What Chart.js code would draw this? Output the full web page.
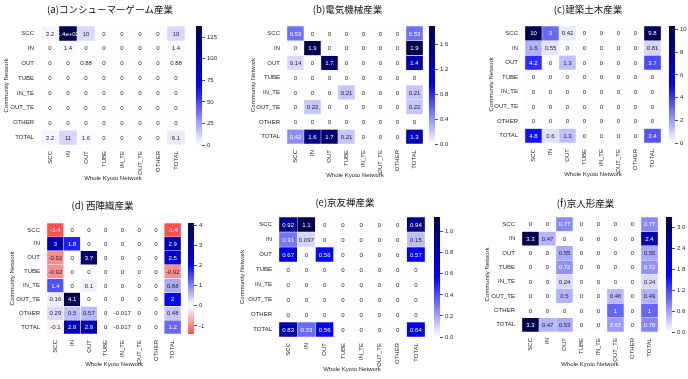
<!DOCTYPE html>
<html><head><meta charset="utf-8">
<script src="https://cdn.jsdelivr.net/npm/chart.js@4.4.0/dist/chart.umd.min.js"></script>
<style>
html,body{margin:0;padding:0;background:#fff;}
#root{position:relative;width:688px;height:379px;overflow:hidden;background:#fff;}
canvas{position:absolute;}
</style></head><body><div id="root"></div>
<script>
// ---------- data ----------
const rowLabels = ['SCC','IN','OUT','TUBE','IN_TE','OUT_TE','OTHER','TOTAL'];
const colLabels = ['SCC','IN','OUT','TUBE','IN_TE','OUT_TE','OTHER','TOTAL'];
const titles = ['(a)コンシューマーゲーム産業','(b)電気機械産業','(c)建築土木産業','(d) 西陣織産業','(e)京友禅産業','(f)京人形産業'];
const xTitle = 'Whole Kyoto Network';
const yTitle = 'Community Network';

const valuesA = [
  [3.2, 138, 10, 0, 0, 0, 0, 10],
  [0, 1.4, 0, 0, 0, 0, 0, 1.4],
  [0, 0, 0.88, 0, 0, 0, 0, 0.88],
  [0, 0, 0, 0, 0, 0, 0, 0],
  [0, 0, 0, 0, 0, 0, 0, 0],
  [0, 0, 0, 0, 0, 0, 0, 0],
  [0, 0, 0, 0, 0, 0, 0, 0],
  [3.2, 11, 1.6, 0, 0, 0, 0, 6.1]
];
const valuesB = [
  [0.53, 0, 0, 0, 0, 0, 0, 0.53],
  [0, 1.9, 0, 0, 0, 0, 0, 1.9],
  [0.14, 0, 1.7, 0, 0, 0, 0, 1.4],
  [0, 0, 0, 0, 0, 0, 0, 0],
  [0, 0, 0, 0.21, 0, 0, 0, 0.21],
  [0, 0.22, 0, 0, 0, 0, 0, 0.22],
  [0, 0, 0, 0, 0, 0, 0, 0],
  [0.42, 1.6, 1.7, 0.21, 0, 0, 0, 1.3]
];
const valuesC = [
  [10.3, 3, 0.42, 0, 0, 0, 0, 9.8],
  [1.6, 0.55, 0, 0, 0, 0, 0, 0.81],
  [4.2, 0, 1.3, 0, 0, 0, 0, 3.7],
  [0, 0, 0, 0, 0, 0, 0, 0],
  [0, 0, 0, 0, 0, 0, 0, 0],
  [0, 0, 0, 0, 0, 0, 0, 0],
  [0, 0, 0, 0, 0, 0, 0, 0],
  [4.8, 0.6, 1.3, 0, 0, 0, 0, 3.4]
];
const valuesD = [
  [-1.4, 0, 0, 0, 0, 0, 0, -1.4],
  [3, 1.8, 0, 0, 0, 0, 0, 2.9],
  [-0.92, 0, 3.7, 0, 0, 0, 0, 2.5],
  [-0.92, 0, 0, 0, 0, 0, 0, -0.92],
  [1.4, 0, 0.1, 0, 0, 0, 0, 0.68],
  [0.16, 4.1, 0, 0, 0, 0, 0, 2],
  [0.29, 0.5, 0.57, 0, -0.017, 0, 0, 0.48],
  [-0.1, 2.9, 2.9, 0, -0.017, 0, 0, 1.2]
];
const valuesE = [
  [0.92, 1.14, 0, 0, 0, 0, 0, 0.94],
  [0.31, 0.097, 0, 0, 0, 0, 0, 0.15],
  [0.67, 0, 0.56, 0, 0, 0, 0, 0.57],
  [0, 0, 0, 0, 0, 0, 0, 0],
  [0, 0, 0, 0, 0, 0, 0, 0],
  [0, 0, 0, 0, 0, 0, 0, 0],
  [0, 0, 0, 0, 0, 0, 0, 0],
  [0.83, 0.33, 0.56, 0, 0, 0, 0, 0.64]
];
const valuesF = [
  [0, 0, 0.77, 0, 0, 0, 0, 0.77],
  [3.3, 0.47, 0, 0, 0, 0, 0, 2.4],
  [0, 0, 0.55, 0, 0, 0, 0, 0.55],
  [0, 0, 0.72, 0, 0, 0, 0, 0.72],
  [0, 0, 0.24, 0, 0, 0, 0, 0.24],
  [0, 0, 0.5, 0, 0, 0.46, 0, 0.49],
  [0, 0, 0, 0, 0, 1, 0, 1],
  [3.3, 0.47, 0.53, 0, 0, 0.67, 0, 0.79]
];

const cbTicksA = ['0','25','50','75','100','125'];
const cbTicksB = ['0.0','0.4','0.8','1.2','1.6'];
const cbTicksC = ['0','2','4','6','8','10'];
const cbTicksD = ['-1','0','1','2','3','4'];
const cbTicksE = ['0.0','0.2','0.4','0.6','0.8','1.0'];
const cbTicksF = ['0.0','0.6','1.2','1.8','2.4','3.0'];

// ---------- layout (pixels) ----------
const geom = [
  {x0:41, x1:185, y0:26, y1:145, tc:110, td:16, xtd:33, yd:34.7, cbx:196},
  {x0:287, x1:423, y0:26, y1:144, tc:347.5, td:16, xtd:31.7, yd:33.7, cbx:429},
  {x0:525, x1:661, y0:26, y1:143, tc:588, td:16, xtd:31, yd:33.7, cbx:669},
  {x0:47, x1:181, y0:223, y1:334, tc:102.5, td:17.6, xtd:30.7, yd:34.7, cbx:188},
  {x0:279, x1:425, y0:217, y1:337, tc:345, td:14, xtd:32.3, yd:36.6, cbx:434},
  {x0:522, x1:658, y0:217, y1:332, tc:585.5, td:13, xtd:32.3, yd:34.3, cbx:666}
];
const Wy = 40, Hx = 37, TITLE_FS = 9.5, FS = 6, CBW_AXIS = 30, PADV = 10;
const FONT = "'Liberation Sans', Arial, sans-serif";
const JFONT = "'Noto Sans CJK JP', 'Noto Sans', sans-serif";
const TXT = '#262626';

// ---------- helpers ----------
const seismic = [[0,0,0.3],[0,0,1],[1,1,1],[1,0,0],[0.5,0,0]];
function seismicAt(x){
  x = Math.min(1, Math.max(0, x));
  const p = x * 4; const i = Math.min(3, Math.floor(p)); const f = p - i;
  return seismic[i].map((c,k) => c + (seismic[i+1][k] - c) * f);
}
// matplotlib-style 256-entry lookup of seismic_r
function seismicR(x){
  const idx = Math.min(255, Math.max(0, Math.floor(x * 256)));
  return seismicAt(1 - idx / 255);
}
function colorFor(v, vmin, vmax){
  const vr = Math.max(vmax, -vmin);
  const t = (v + vr) / (2 * vr);
  return seismicR(t); // seismic_r centred at 0
}
function css(rgb){ return 'rgb(' + rgb.map(c => Math.round(c*255)).join(',') + ')'; }
function lum(rgb){
  const l = rgb.map(c => c <= 0.03928 ? c/12.92 : Math.pow((c+0.055)/1.055, 2.4));
  return 0.2126*l[0] + 0.7152*l[1] + 0.0722*l[2];
}
function fmt(v){
  if (v === 0) return '0';
  const e = Math.floor(Math.log10(Math.abs(v)));
  if (e >= 2 || e < -4){
    let [m, ex] = v.toExponential(1).split('e');
    m = m.replace(/\.0$/, '');
    const sign = ex[0] === '-' ? '-' : '+';
    let d = ex.replace(/^[+-]/, ''); if (d.length < 2) d = '0' + d;
    return m + 'e' + sign + d;
  }
  let s = v.toPrecision(2);
  if (s.includes('.')) s = s.replace(/0+$/, '').replace(/\.$/, '');
  return s;
}
const root = document.getElementById('root');
function makeCanvas(left, top, w, h){
  const c = document.createElement('canvas');
  c.width = w; c.height = h;
  c.style.left = left + 'px'; c.style.top = top + 'px';
  c.style.width = w + 'px'; c.style.height = h + 'px';
  root.appendChild(c);
  return c;
}

function drawPanel(title, values, cbTicks, g){
  const flat = values.flat();
  const vmin = Math.min(...flat), vmax = Math.max(...flat);
  const hmW = g.x1 - g.x0;
  const hmc = (g.x0 + g.x1) / 2;
  const wr = Wy + 2 * (g.tc - hmc);
  const top = Math.round(g.y0 - g.td - TITLE_FS * 0.6);
  const pbT = (g.y0 - top) - TITLE_FS * 1.2;
  const pbX = Hx - g.xtd - FS * 0.6;
  const pY = Wy - g.yd - FS * 0.6;
  const cw = Math.round(Wy + hmW + wr);
  const ch = (g.y0 - top) + (g.y1 - g.y0) + Hx;
  const canvas = makeCanvas(g.x0 - Wy, top, cw, ch);

  const annot = {
    id: 'annot',
    afterDatasetsDraw(chart){
      const ctx = chart.ctx;
      ctx.save();
      ctx.font = FS + 'px ' + FONT;
      ctx.textAlign = 'center'; ctx.textBaseline = 'middle';
      chart.data.datasets.forEach((ds, r) => {
        chart.getDatasetMeta(r).data.forEach((bar, c) => {
          const v = values[r][c];
          ctx.fillStyle = lum(colorFor(v, vmin, vmax)) > 0.408 ? TXT : '#ffffff';
          ctx.fillText(fmt(v), bar.x, (bar.y + bar.base) / 2 + 0.5);
        });
      });
      ctx.restore();
    }
  };

  new Chart(canvas, {
    type: 'bar',
    data: {
      labels: colLabels,
      datasets: values.map((row, r) => ({
        data: row.map(() => [r, r + 1]),
        backgroundColor: row.map(v => css(colorFor(v, vmin, vmax))),
        borderColor: '#ffffff', borderWidth: 0.5, borderSkipped: false,
        barPercentage: 1, categoryPercentage: 1, grouped: false
      }))
    },
    options: {
      responsive: false, animation: false, events: [],
      layout: { padding: 0 },
      plugins: {
        legend: { display: false }, tooltip: { enabled: false },
        title: { display: true, text: title, color: '#111', fullSize: true,
          font: { family: JFONT, size: TITLE_FS, weight: 'normal' },
          padding: { top: 0, bottom: pbT } }
      },
      scales: {
        x: { type: 'category', offset: true,
          grid: { display: false, drawTicks: false }, border: { display: false },
          ticks: { font: { family: FONT, size: FS }, color: TXT, minRotation: 90, maxRotation: 90, autoSkip: false, padding: 6 },
          title: { display: true, text: xTitle, color: TXT, font: { family: FONT, size: FS }, padding: { top: 0, bottom: pbX } },
          afterFit(s){ s.height = Hx; } },
        y: { type: 'linear', min: 0, max: 8, reverse: true,
          grid: { display: false, drawTicks: false }, border: { display: false },
          afterBuildTicks(s){ s.ticks = rowLabels.map((_, i) => ({ value: i + 0.5 })); },
          ticks: { font: { family: FONT, size: FS }, color: TXT, padding: 7, autoSkip: false,
            callback: (v) => rowLabels[Math.floor(v)] },
          title: { display: true, text: yTitle, color: TXT, font: { family: FONT, size: FS }, padding: { top: pY, bottom: 0 } },
          afterFit(s){ s.width = Wy; } },
        yR: { type: 'linear', position: 'right', display: true,
          grid: { display: false, drawTicks: false }, border: { display: false },
          ticks: { display: false }, afterFit(s){ s.width = wr; } }
      }
    },
    plugins: [annot]
  });

  // colour bar
  const cbw = Math.round((g.y1 - g.y0) / 20);
  const cbCanvas = makeCanvas(g.cbx, g.y0 - PADV, cbw + CBW_AXIS, (g.y1 - g.y0) + 2 * PADV);
  const tickVals = cbTicks.map(t => parseFloat(t));
  new Chart(cbCanvas, {
    type: 'bar',
    data: { labels: [''], datasets: [{
      data: [[vmin, vmax]], borderWidth: 0, barPercentage: 1, categoryPercentage: 1,
      backgroundColor: (c) => {
        const ca = c.chart.chartArea;
        if (!ca) return '#ffffff';
        const grd = c.chart.ctx.createLinearGradient(0, ca.bottom, 0, ca.top);
        const N = 60;
        for (let i = 0; i <= N; i++){
          const v = vmin + (vmax - vmin) * i / N;
          grd.addColorStop(i / N, css(colorFor(v, vmin, vmax)));
        }
        return grd;
      }
    }]},
    options: {
      responsive: false, animation: false, events: [],
      layout: { padding: { top: PADV, bottom: PADV, left: 0, right: 0 } },
      plugins: { legend: { display: false }, tooltip: { enabled: false } },
      scales: {
        x: { display: false, offset: true },
        y: { position: 'right', min: vmin, max: vmax,
          grid: { display: true, drawOnChartArea: false, drawTicks: true, tickLength: 3, color: TXT, lineWidth: 0.8 },
          border: { display: false },
          afterBuildTicks(s){ s.ticks = tickVals.map(v => ({ value: v })); },
          ticks: { font: { family: FONT, size: FS }, color: TXT, padding: 2, autoSkip: false,
            callback: (v, i) => cbTicks[i] },
          afterFit(s){ s.width = CBW_AXIS; } }
      }
    }
  });
}

drawPanel(titles[0], valuesA, cbTicksA, geom[0]);
drawPanel(titles[1], valuesB, cbTicksB, geom[1]);
drawPanel(titles[2], valuesC, cbTicksC, geom[2]);
drawPanel(titles[3], valuesD, cbTicksD, geom[3]);
drawPanel(titles[4], valuesE, cbTicksE, geom[4]);
drawPanel(titles[5], valuesF, cbTicksF, geom[5]);
</script></body></html>
